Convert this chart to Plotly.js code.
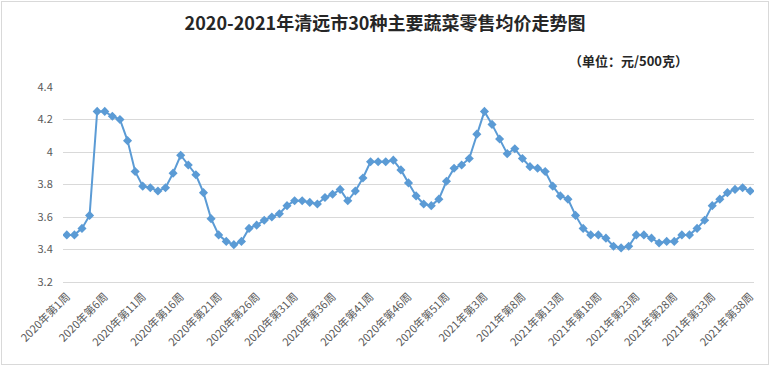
<!DOCTYPE html>
<html>
<head>
<meta charset="utf-8">
<script src="https://cdn.plot.ly/plotly-3.0.1.min.js"></script>
<style>
  html, body { margin: 0; padding: 0; background: #ffffff; }
  #wrap { position: relative; width: 770px; height: 366px; overflow: hidden; }
  #chart { position: absolute; left: 0; top: 0; width: 770px; height: 366px; }
  #frame { position: absolute; left: 1px; top: 1px; width: 766px; height: 362px;
           border: 1px solid #d9d9d9; pointer-events: none; }
</style>
</head>
<body>
<div id="wrap">
  <div id="chart"></div>
  <div id="frame"></div>
</div>
<script>
// ---- data ----
var weeks2020 = 53;
var weeks2021 = 38;

var values2020 = [
  3.49, 3.49, 3.53, 3.61, 4.25, 4.25, 4.22, 4.20, 4.07, 3.88,
  3.79, 3.78, 3.76, 3.78, 3.87, 3.98, 3.92, 3.86, 3.75, 3.59,
  3.49, 3.45, 3.43, 3.45, 3.53, 3.55, 3.58, 3.60, 3.62, 3.67,
  3.70, 3.70, 3.69, 3.68, 3.72, 3.74, 3.77, 3.70, 3.76, 3.84,
  3.94, 3.94, 3.94, 3.95, 3.89, 3.81, 3.73, 3.68, 3.67, 3.71,
  3.82, 3.90, 3.92
];
var values2021 = [
  3.96, 4.11, 4.25, 4.17, 4.08, 3.99, 4.02, 3.96, 3.91, 3.90,
  3.88, 3.79, 3.73, 3.71, 3.61, 3.53, 3.49, 3.49, 3.47, 3.42,
  3.41, 3.42, 3.49, 3.49, 3.47, 3.44, 3.45, 3.45, 3.49, 3.49,
  3.53, 3.58, 3.67, 3.71, 3.75, 3.77, 3.78, 3.76
];

var titleText = "2020-2021年清远市30种主要蔬菜零售均价走势图";
var unitText = "（单位：元/500克）";

// categories
var categories = [];
for (var i = 1; i <= weeks2020; i++) categories.push("2020年第" + i + "周");
for (var j = 1; j <= weeks2021; j++) categories.push("2021年第" + j + "周");
var values = values2020.concat(values2021);

// tick labels every 5 categories
var tickVals = [];
for (var k = 0; k < categories.length; k += 5) tickVals.push(categories[k]);

var trace = {
  type: "scatter",
  mode: "lines+markers",
  x: categories,
  y: values,
  line: { color: "#5B9BD5", width: 2 },
  marker: { symbol: "diamond", size: 7, color: "#5B9BD5" },
  hoverinfo: "x+y"
};

var layout = {
  width: 770,
  height: 366,
  margin: { l: 63, r: 16, t: 87, b: 84, pad: 0 },
  paper_bgcolor: "#ffffff",
  plot_bgcolor: "#ffffff",
  showlegend: false,
  font: { family: "'Noto Sans CJK SC', 'Microsoft YaHei', sans-serif", color: "#595959", size: 11 },
  title: {
    text: "<b>" + titleText + "</b>",
    x: 0.5, xanchor: "center",
    y: 1 - 24 / 366, yanchor: "middle", yref: "container",
    font: { family: "'Noto Sans CJK SC', serif", size: 18, color: "#262626" }
  },
  annotations: [{
    text: "<b>" + unitText + "</b>",
    xref: "paper", yref: "paper",
    x: (690 - 63) / 691, xanchor: "right",
    y: 1 + (87 - 60) / 195, yanchor: "middle",
    showarrow: false,
    font: { family: "'Noto Sans CJK SC', sans-serif", size: 13, color: "#262626" }
  }],
  xaxis: {
    type: "category",
    categoryorder: "array",
    categoryarray: categories,
    range: [-0.5, categories.length - 0.5],
    autorange: false,
    tickmode: "array",
    tickvals: tickVals,
    ticktext: tickVals,
    tickangle: -45,
    ticks: "outside",
    ticklen: 3,
    tickcolor: "rgba(0,0,0,0)",
    showgrid: false,
    showline: true,
    linecolor: "#d9d9d9",
    linewidth: 1,
    zeroline: false,
    tickfont: { size: 11, color: "#595959" }
  },
  yaxis: {
    range: [3.2, 4.4],
    autorange: false,
    dtick: 0.2,
    tick0: 3.2,
    showgrid: true,
    gridcolor: "#d9d9d9",
    gridwidth: 1,
    zeroline: false,
    showline: false,
    ticks: "outside",
    ticklen: 7,
    tickcolor: "rgba(0,0,0,0)",
    tickfont: { size: 11, color: "#595959" }
  }
};

Plotly.newPlot("chart", [trace], layout, { displayModeBar: false, staticPlot: true });
</script>
</body>
</html>
